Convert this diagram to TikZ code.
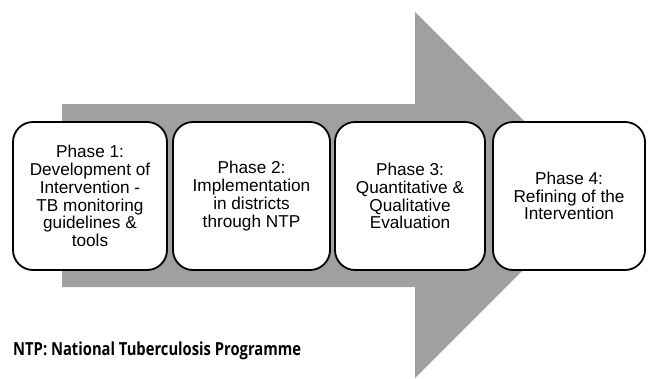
\documentclass[tikz,border=0pt]{standalone}
\usepackage{fontspec}
\setmainfont{Liberation Sans}
\newfontfamily\notefont[FakeStretch=0.82]{Open Sans}
\definecolor{arrowgray}{RGB}{160,160,160}
\begin{document}
\begin{tikzpicture}[x=1pt,y=-1pt,
  phasebox/.style={draw=black,line width=1.8pt,fill=white,rounded corners=20pt,
    minimum height=148pt,align=center,inner sep=0pt,
    font=\fontsize{17.2}{17.8}\selectfont},
  notelabel/.style={anchor=base west,inner sep=0pt,font=\notefont\bfseries\fontsize{18}{20}\selectfont}]
  \useasboundingbox (0,0) rectangle (648,378);
  % large background arrow
  \fill[arrowgray] (62,104) -- (415,104) -- (415,12) -- (598,195) -- (415,378)
    -- (415,287) -- (62,287) -- cycle;
  % phases
  \node[phasebox,minimum width=154pt] (p1) at (90,196)
    {Phase 1:\\Development of\\Intervention -\\TB monitoring\\guidelines \&\\tools};
  \node[phasebox,minimum width=157pt] (p2) at (251.5,196)
    {Phase 2:\\Implementation\\in districts\\through NTP};
  \node[phasebox,minimum width=150pt] (p3) at (410,196)
    {Phase 3:\\Quantitative \&\\Qualitative\\Evaluation};
  \node[phasebox,minimum width=152pt] (p4) at (569,196)
    {Phase 4:\\Refining of the\\Intervention};
  % abbreviation note
  \node[notelabel] (note) at (13,355) {NTP: National Tuberculosis Programme};
\end{tikzpicture}
\end{document}
